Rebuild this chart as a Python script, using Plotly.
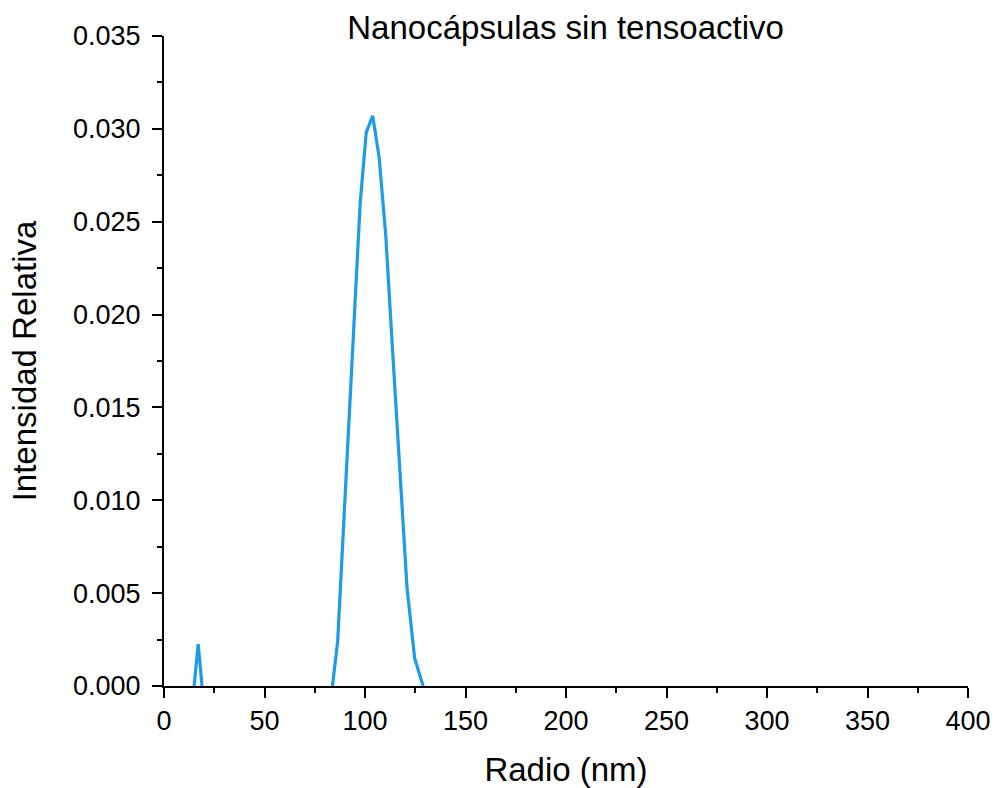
import plotly.graph_objects as go

# Small peak
radio_1 = [15.0, 16.0, 17.0, 18.0, 18.9]
intens_1 = [0.0, 0.0011, 0.00225, 0.0011, 0.0]

# Main peak
radio_2 = [83.8, 86.4, 89.1, 91.8, 94.7, 97.6, 100.6, 103.8, 107.0, 110.3,
           113.7, 117.3, 120.9, 124.7, 128.9]
intens_2 = [0.0, 0.0024, 0.0081, 0.0138, 0.0199, 0.0260, 0.0298, 0.0307, 0.0285, 0.0243,
            0.0181, 0.0119, 0.0053, 0.0015, 0.0]

x_ticks = [0, 50, 100, 150, 200, 250, 300, 350, 400]
y_ticks = [0.000, 0.005, 0.010, 0.015, 0.020, 0.025, 0.030, 0.035]

color = "#1E9BE6"
font_family = "Liberation Sans, Arial, sans-serif"

fig = go.Figure()
fig.add_trace(go.Scatter(x=radio_1 + [None] + radio_2, y=intens_1 + [None] + intens_2,
                         mode="lines", line=dict(color=color, width=3.2),
                         connectgaps=False, showlegend=False))

fig.update_layout(
    width=994, height=788,
    margin=dict(l=164, r=26, t=36, b=102),
    paper_bgcolor="white", plot_bgcolor="white",
    font=dict(family=font_family, color="black"),
    title=dict(text="Nanocápsulas sin tensoactivo", x=0.569, xanchor="center",
               y=0.965, yanchor="middle", yref="container",
               font=dict(size=33, family=font_family, color="black")),
)

fig.update_xaxes(
    range=[0, 400], tickvals=x_ticks, ticktext=[str(v) for v in x_ticks],
    automargin=False,
    showgrid=False, zeroline=False, showline=True, linecolor="black", linewidth=2,
    ticks="outside", ticklen=10, tickwidth=2, tickcolor="black",
    tickfont=dict(size=27, family=font_family),
    minor=dict(ticks="outside", ticklen=5, tickwidth=2, tickcolor="black", dtick=25, showgrid=False),
    title=dict(text="Radio (nm)", font=dict(size=33, family=font_family), standoff=22),
)
fig.update_yaxes(
    range=[0, 0.035], tickvals=y_ticks, ticktext=[f"{v:.3f}" for v in y_ticks],
    automargin=False,
    showgrid=False, zeroline=False, showline=True, linecolor="black", linewidth=2,
    ticks="outside", ticklen=10, tickwidth=2, tickcolor="black",
    tickfont=dict(size=27, family=font_family), ticklabelstandoff=6,
    minor=dict(ticks="outside", ticklen=5, tickwidth=2, tickcolor="black", dtick=0.0025, showgrid=False),
    title=dict(text="Intensidad Relativa", font=dict(size=33, family=font_family), standoff=26),
)

fig.write_html("out.html")
